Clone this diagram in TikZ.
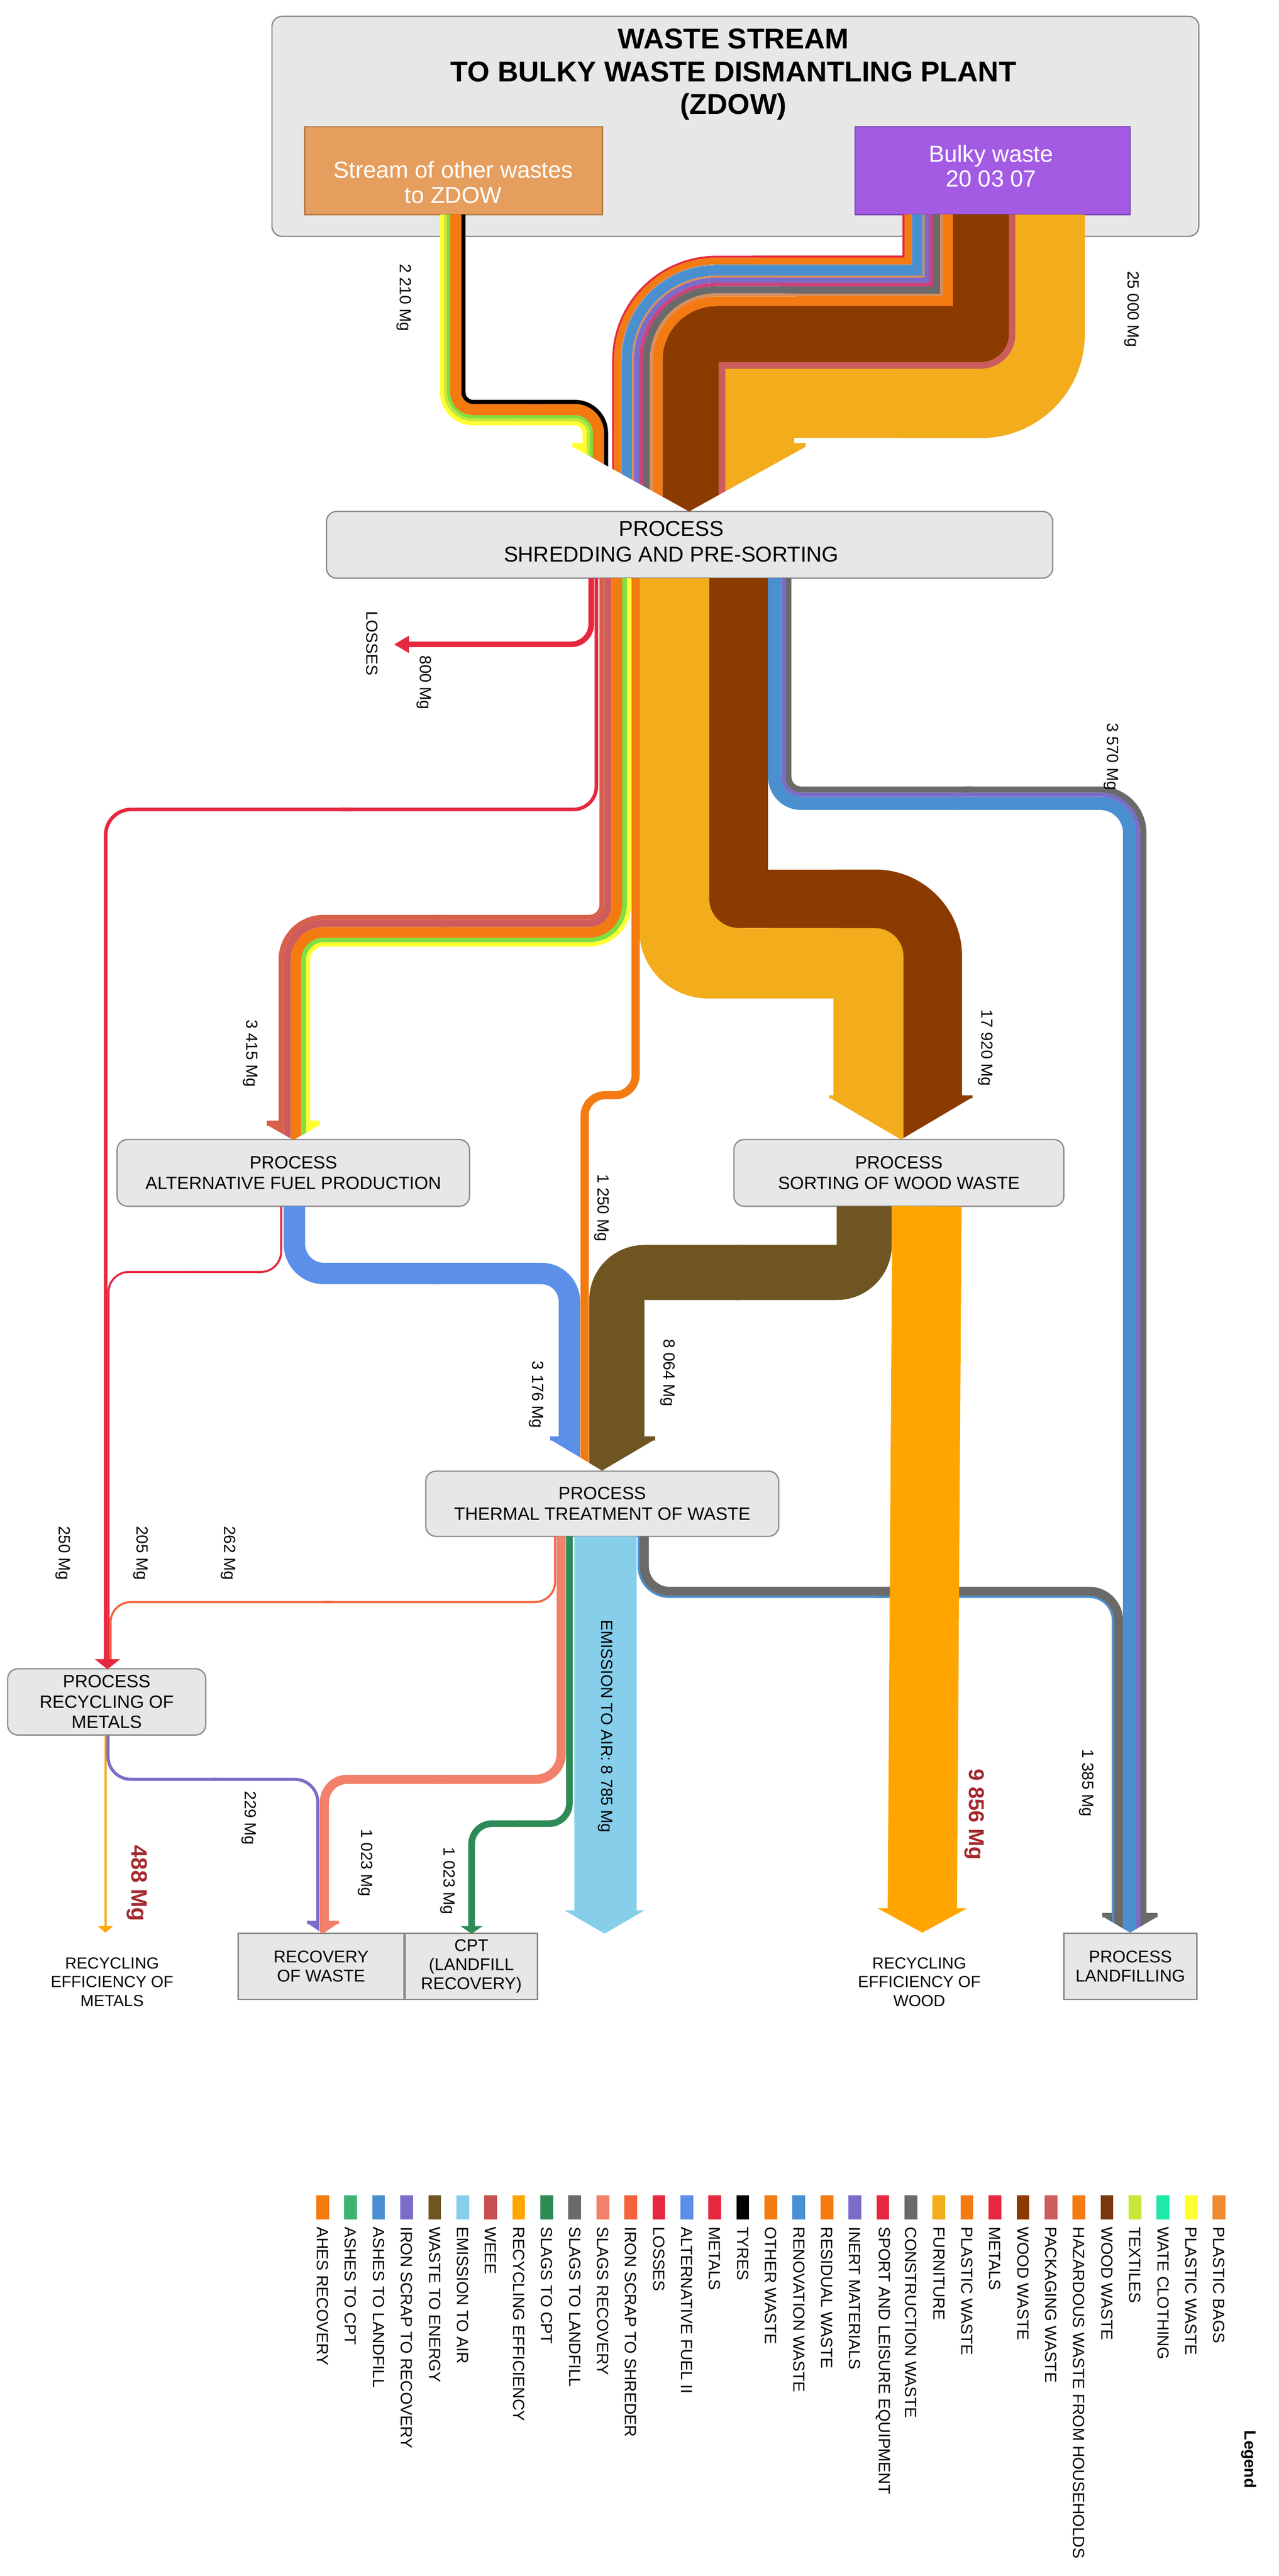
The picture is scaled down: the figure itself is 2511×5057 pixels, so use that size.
\documentclass[tikz,border=0pt]{standalone}
\usepackage{fontspec}
\setmainfont{Liberation Sans}
\usetikzlibrary{positioning}

\definecolor{boxgray}{HTML}{E7E7E7}
\definecolor{boxline}{HTML}{8A8A8A}
\definecolor{otherbox}{HTML}{E59E5E}
\definecolor{otherline}{HTML}{B37A45}
\definecolor{bulkybox}{HTML}{A35BE4}
\definecolor{bulkyline}{HTML}{7B44B5}
\definecolor{valred}{HTML}{A3282E}
\definecolor{cOrange}{HTML}{F47A12}
\definecolor{cRed}{HTML}{E6283F}
\definecolor{cBlue}{HTML}{4A8FD0}
\definecolor{cPurple}{HTML}{7B6CC8}
\definecolor{cGray}{HTML}{6A6A6A}
\definecolor{cBrown}{HTML}{8B3A00}
\definecolor{cWood}{HTML}{7A3810}
\definecolor{cRose}{HTML}{CD5C5C}
\definecolor{cGold}{HTML}{F2AC1C}
\definecolor{cRecyc}{HTML}{FFA500}
\definecolor{cOlive}{HTML}{6E5522}
\definecolor{cSky}{HTML}{87CEEB}
\definecolor{cAlt}{HTML}{5B8FE8}
\definecolor{cSalmon}{HTML}{F2806A}
\definecolor{cTomato}{HTML}{F4623C}
\definecolor{cSlagGreen}{HTML}{2E8B57}
\definecolor{cAshGreen}{HTML}{3CB371}
\definecolor{cWeee}{HTML}{C85050}
\definecolor{cTextile}{HTML}{C6E83A}
\definecolor{cCloth}{HTML}{20E8A8}
\definecolor{cPlastic}{HTML}{FFFF30}
\definecolor{cBags}{HTML}{F08A30}
\definecolor{cTan}{HTML}{D88F5E}
\definecolor{cPink}{HTML}{D0407A}
\definecolor{cBrick}{HTML}{D8604A}
\definecolor{cLime}{HTML}{7EE040}
\definecolor{cThin}{HTML}{9A9A9A}

% band: colour, width (mm), x start, y start, y of the cross run, x end, y end, corner 1, corner 2
\newcommand{\zflow}[9]{%
  \draw[#1,line width=#2mm,#8] (#3,#4) |- ({0.52*#6+0.48*#3},#5);
  \draw[#1,line width=#2mm,#9] ({0.5*#6+0.5*#3},#5) -| (#6,#7);}

\begin{document}
\begin{tikzpicture}[x=0.1mm, y=-0.1mm,
  process/.style={draw=boxline, fill=boxgray, rounded corners=2mm, line width=0.25mm, inner sep=0pt, align=center, font=\fontsize{10}{11.4}\selectfont},
  endbox/.style={draw=boxline, fill=boxgray, line width=0.25mm, inner sep=0pt, align=center, font=\fontsize{9.5}{10.6}\selectfont, minimum height=13mm},
  srcbox/.style={line width=0.25mm, inner sep=0pt, minimum height=17.2mm},
  srctext/.style={inner sep=0pt, align=center, text=white, font=\fontsize{13}{14}\selectfont},
  val/.style={rotate=-90, inner sep=0pt, font=\fontsize{9}{10}\selectfont},
  bigval/.style={rotate=-90, inner sep=0pt, text=valred, font=\fontsize{12.5}{14}\selectfont\bfseries},
  note/.style={inner sep=0pt, align=center, font=\fontsize{9}{10.5}\selectfont},
  legtext/.style={rotate=-90, anchor=west, inner sep=0pt, font=\fontsize{9}{10}\selectfont}]

\useasboundingbox (0,0) rectangle (2511,5057);

\node[process, minimum width=182mm, minimum height=43.2mm] (topbox) at (1444,248) {};
\node[inner sep=0pt, align=center, font=\fontsize{16}{18.2}\selectfont\bfseries] (title) at (1440,146) {WASTE STREAM\\TO BULKY WASTE DISMANTLING PLANT\\(ZDOW)};
\node[srcbox, fill=otherbox, draw=otherline, minimum width=58.5mm] (other) at (890.5,335) {};
\node[srctext] (othertxt) at (890,358) {Stream of other wastes\\to ZDOW};
\node[srcbox, fill=bulkybox, draw=bulkyline, minimum width=54mm] (bulky) at (1949,335) {};
\node[srctext] (bulkytxt) at (1946,326) {Bulky waste\\20 03 07};

\node[process, minimum width=142.6mm, minimum height=13.1mm] (shred) at (1354,1069.5) {};
\node[inner sep=0pt, align=center, font=\fontsize{12}{14.2}\selectfont] (shredtxt) at (1318,1063) {PROCESS\\SHREDDING AND PRE-SORTING};
\node[process, minimum width=69.2mm, minimum height=13.1mm] (alt) at (576,2302.5) {PROCESS\\ALTERNATIVE FUEL PRODUCTION};
\node[process, minimum width=64.8mm, minimum height=13.1mm] (sorting) at (1765,2302.5) {PROCESS\\SORTING OF WOOD WASTE};
\node[process, minimum width=69.3mm, minimum height=12.8mm] (thermal) at (1182.5,2952) {PROCESS\\THERMAL TREATMENT OF WASTE};
\node[process, minimum width=38.9mm, minimum height=13mm] (metals) at (209.5,3341) {PROCESS\\RECYCLING OF\\METALS};
\node[endbox, minimum width=32.5mm] (recov) at (630.5,3860) {RECOVERY\\OF WASTE};
\node[endbox, minimum width=26mm, right=0pt of recov] (cpt) {CPT\\(LANDFILL\\RECOVERY)};
\node[endbox, minimum width=26.1mm] (landfill) at (2219.5,3860) {PROCESS\\LANDFILLING};
\node[note] (effmet) at (220,3891) {RECYCLING\\EFFICIENCY OF\\METALS};
\node[note] (effwood) at (1805,3891) {RECYCLING\\EFFICIENCY OF\\WOOD};

% into shredding
\begin{scope}
\clip (0,0) -- (2511,0) -- (2511,878) -- (1580,878) -- (1353,1004) -- (1126,878) -- (0,878) -- cycle;
\zflow{cPlastic}{0.8}{868}{421}{831}{1148}{1005}{rounded corners=6.1mm}{rounded corners=1.9mm}
\zflow{cTextile}{0.6}{875}{421}{824}{1155}{1005}{rounded corners=5.4mm}{rounded corners=2.6mm}
\zflow{cLime}{0.6}{881}{421}{818}{1161}{1005}{rounded corners=4.8mm}{rounded corners=3.2mm}
\zflow{cOrange}{2.2}{895}{421}{804}{1175}{1005}{rounded corners=3.4mm}{rounded corners=4.6mm}
\zflow{black}{0.8}{910}{421}{789}{1190}{1005}{rounded corners=1.9mm}{rounded corners=6.1mm}
\zflow{cRed}{0.4}{1774}{421}{504}{1204}{1005}{sharp corners}{rounded corners=20.3mm}
\zflow{cOrange}{1.3}{1782.5}{421}{512.5}{1212.5}{1005}{sharp corners}{rounded corners=19.45mm}
\zflow{cThin}{0.2}{1790}{421}{520}{1220}{1005}{sharp corners}{rounded corners=18.7mm}
\zflow{cBlue}{2.0}{1801}{421}{531}{1231}{1005}{sharp corners}{rounded corners=17.6mm}
\zflow{cTan}{0.4}{1813}{421}{543}{1243}{1005}{sharp corners}{rounded corners=16.4mm}
\zflow{cPurple}{1.0}{1820}{421}{550}{1250}{1005}{sharp corners}{rounded corners=15.7mm}
\zflow{cPink}{0.7}{1828.5}{421}{558.5}{1258.5}{1005}{sharp corners}{rounded corners=14.85mm}
\zflow{cGray}{1.4}{1839}{421}{569}{1269}{1005}{sharp corners}{rounded corners=13.8mm}
\zflow{cTan}{0.6}{1849}{421}{579}{1279}{1005}{sharp corners}{rounded corners=12.8mm}
\zflow{cOrange}{1.9}{1861.5}{421}{591.5}{1291.5}{1005}{sharp corners}{rounded corners=11.55mm}
\zflow{cBrown}{11}{1926}{421}{656}{1356}{1005}{sharp corners,line join=round}{rounded corners=5.1mm}
\zflow{cRose}{1.3}{1987.5}{421}{717.5}{1417.5}{1005}{rounded corners=6.15mm}{sharp corners}
\zflow{cGold}{13.6}{2062}{421}{792}{1492}{1005}{rounded corners=13.6mm}{sharp corners}
\fill[cPlastic] (1124,870) rectangle (1145,1006);
\fill[cGold] (1559,870) rectangle (1582,1006);
\end{scope}

% out of shredding
\draw[cRed, line width=1.1mm, rounded corners=4mm] (1161,1135) |- (800,1265);
\fill[cRed] (803,1248) -- (774,1265) -- (803,1282) -- cycle;
\zflow{cRed}{0.7}{1171}{1135}{1589}{207.5}{3258}{rounded corners=4.5mm}{rounded corners=5mm}
\begin{scope}
\clip (0,0) -- (2511,0) -- (2511,2210) -- (625,2210) -- (576,2238) -- (527,2210) -- (0,2210) -- cycle;
\zflow{cBrick}{1.0}{1182}{1135}{1801}{552}{2238}{rounded corners=2.5mm}{rounded corners=8.3mm}
\zflow{cRose}{1.4}{1194}{1135}{1813}{564}{2238}{rounded corners=3.7mm}{rounded corners=7.1mm}
\zflow{cOrange}{2.1}{1211.5}{1135}{1830.5}{581.5}{2238}{rounded corners=5.45mm}{rounded corners=5.35mm}
\zflow{cLime}{0.9}{1226.5}{1135}{1845.5}{596.5}{2238}{rounded corners=6.95mm}{rounded corners=3.85mm}
\zflow{cPlastic}{0.8}{1235}{1135}{1854}{605}{2238}{rounded corners=7.8mm}{rounded corners=3mm}
\fill[cBrick] (524,2200) rectangle (548,2240);
\fill[cPlastic] (608,2200) rectangle (628,2240);
\end{scope}
\begin{scope}
\clip (0,0) -- (2511,0) -- (2511,2156) -- (1906,2156) -- (1769,2237) -- (1631,2156) -- (0,2156) -- cycle;
\zflow{cGold}{13.8}{1324}{1135}{1891}{1705}{2237}{rounded corners=6.6mm}{sharp corners}
\fill[cGold] (1385,1755) rectangle (1460,1830);
\zflow{cBrown}{11.5}{1450.5}{1135}{1764.5}{1831.5}{2237}{sharp corners,line join=round}{rounded corners=11.3mm}
\fill[cGold] (1627,2150) rectangle (1637,2240);
\fill[cBrown] (1888,2150) rectangle (1910,2240);
\end{scope}

% into thermal treatment
\begin{scope}
\clip (0,0) -- (2511,0) -- (2511,2828) -- (1282,2828) -- (1182,2887) -- (1084,2828) -- (0,2828) -- cycle;
\zflow{cOrange}{1.6}{1248}{1135}{2150}{1148}{2887}{rounded corners=4mm}{rounded corners=4mm}
\zflow{cAlt}{4.2}{578}{2368}{2500}{1118}{2887}{rounded corners=5.8mm}{rounded corners=5.5mm}
\zflow{cOlive}{10.8}{1697}{2368}{2498}{1211}{2887}{rounded corners=5.4mm}{rounded corners=5.4mm}
\fill[cAlt] (1080,2820) rectangle (1099,2890);
\fill[cOlive] (1264,2820) rectangle (1286,2890);
\end{scope}
\zflow{cRed}{0.4}{552}{2368}{2497}{213}{3258}{rounded corners=4mm}{rounded corners=4mm}

% out of thermal treatment
\zflow{cTomato}{0.4}{1090}{3016}{3145}{217}{3258}{rounded corners=4mm}{rounded corners=4mm}
\fill[cRed] (186,3257) -- (211,3277) -- (236,3257) -- cycle;
\zflow{cSlagGreen}{1.3}{1118}{3016}{3580}{926}{3782}{rounded corners=4mm}{rounded corners=4mm}
\fill[cSlagGreen] (904,3781) -- (926,3796) -- (948,3781) -- cycle;
\draw[cSky, line width=12.2mm] (1189,3016) -- (1189,3751);
\fill[cSky] (1108,3750) -- (1187,3796) -- (1266,3750) -- cycle;
\begin{scope}
\clip (0,0) -- (2511,0) -- (2511,3764) -- (2270,3764) -- (2219,3794) -- (2168,3764) -- (0,3764) -- cycle;
\zflow{cBlue}{0.4}{1254}{3016}{3135}{2185}{3794}{rounded corners=6mm}{rounded corners=4.6mm}
\zflow{cGray}{1.8}{1265}{3016}{3124}{2196}{3794}{rounded corners=4.9mm}{rounded corners=5.7mm}
\zflow{cBlue}{2.6}{1521}{1135}{1577}{2218}{3794}{rounded corners=5.2mm}{rounded corners=5.8mm}
\zflow{cPurple}{0.8}{1538}{1135}{1560}{2235}{3794}{rounded corners=3.5mm}{rounded corners=7.5mm}
\zflow{cGray}{1.2}{1548}{1135}{1550}{2245}{3794}{rounded corners=2.5mm}{rounded corners=8.5mm}
\fill[cGray] (2164,3755) rectangle (2184,3800);
\fill[cGray] (2250,3755) rectangle (2273,3800);
\end{scope}
\draw[cRecyc, line width=13.6mm] (1820,2368) -- (1811,3747);
\fill[cRecyc] (1723,3746) -- (1811,3794) -- (1899,3746) -- cycle;

% out of recycling of metals
\draw[cRecyc, line width=0.4mm] (207,3406) -- (207,3782);
\fill[cRecyc] (192,3781) -- (207,3794) -- (222,3781) -- cycle;
\begin{scope}
\clip (0,0) -- (2511,0) -- (2511,3777) -- (662,3777) -- (634,3796) -- (606,3777) -- (0,3777) -- cycle;
\zflow{cPurple}{0.6}{212}{3406}{3493}{624}{3796}{rounded corners=4.5mm}{rounded corners=4.5mm}
\zflow{cSalmon}{1.8}{1102}{3016}{3493}{637}{3796}{rounded corners=5mm}{rounded corners=4.5mm}
\fill[cPurple] (603,3770) rectangle (622,3800);
\fill[cSalmon] (645,3770) rectangle (665,3800);
\end{scope}

% values
\node[val] (vother) at (793,584) {2 210 Mg};
\node[val] (vbulky) at (2222,607) {25 000 Mg};
\node[val] (vlosstxt) at (730,1263) {LOSSES};
\node[val] (vloss) at (833,1340) {800 Mg};
\node[val] (vland) at (2182,1485) {3 570 Mg};
\node[val] (vsort) at (1935,2057) {17 920 Mg};
\node[val] (valt) at (492,2068) {3 415 Mg};
\node[val] (vthermo) at (1181,2371) {1 250 Mg};
\node[val] (vfuel) at (1053,2738) {3 176 Mg};
\node[val] (venergy) at (1311,2695) {8 064 Mg};
\node[val] (vmet1) at (124,3049) {250 Mg};
\node[val] (vmet2) at (276,3049) {205 Mg};
\node[val] (vmet3) at (448,3049) {262 Mg};
\node[val] (vair) at (1189,3389) {EMISSION TO AIR: 8 785 Mg};
\node[val] (viron) at (489,3569) {229 Mg};
\node[val] (vrecov) at (717,3657) {1 023 Mg};
\node[val] (vcpt) at (879,3692) {1 023 Mg};
\node[val] (vlandfill) at (2133,3500) {1 385 Mg};
\node[bigval] (vmetals) at (269,3697) {488 Mg};
\node[bigval, font=\fontsize{12}{14}\selectfont\bfseries] (vwood) at (1913,3562) {9 856 Mg};

% legend
\foreach \col/\txt [count=\i] in {cOrange/AHES RECOVERY, cAshGreen/ASHES TO CPT, cBlue/ASHES TO LANDFILL,
  cPurple/IRON SCRAP TO RECOVERY, cOlive/WASTE TO ENERGY, cSky/EMISSION TO AIR, cWeee/WEEE,
  cRecyc/RECYCLING EFFICIENCY, cSlagGreen/SLAGS TO CPT, cGray/SLAGS TO LANDFILL, cSalmon/SLAGS RECOVERY,
  cTomato/IRON SCRAP TO SHREDER, cRed/LOSSES, cAlt/ALTERNATIVE FUEL II, cRed/METALS, black/TYRES,
  cOrange/OTHER WASTE, cBlue/RENOVATION WASTE, cOrange/RESIDUAL WASTE, cPurple/INERT MATERIALS,
  cRed/SPORT AND LEISURE EQUIPMENT, cGray/CONSTRUCTION WASTE, cGold/FURNITURE, cOrange/PLASTIC WASTE,
  cRed/METALS, cBrown/WOOD WASTE, cRose/PACKAGING WASTE, cOrange/HAZARDOUS WASTE FROM HOUSEHOLDS,
  cWood/WOOD WASTE, cTextile/TEXTILES, cCloth/WATE CLOTHING, cPlastic/PLASTIC WASTE, cBags/PLASTIC BAGS}{
  \fill[\col] ({621+55*(\i-1)},4310) rectangle ({646+55*(\i-1)},4357);
  \node[legtext] (leg\i) at ({633.5+55*(\i-1)},4371) {\txt};
}
\node[legtext, font=\fontsize{9}{10}\selectfont\bfseries] (legend) at (2452,4771) {Legend};
\end{tikzpicture}
\end{document}
